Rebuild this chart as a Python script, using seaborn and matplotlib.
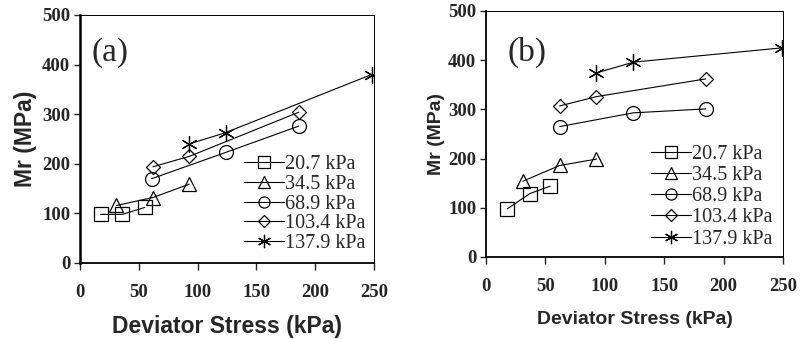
import numpy as np
import matplotlib
matplotlib.use("Agg")
import matplotlib.pyplot as plt
import pandas as pd
import seaborn as sns

# confining pressures (legend) and marker per series
confining = ["20.7 kPa", "34.5 kPa", "68.9 kPa", "103.4 kPa", "137.9 kPa"]
marker_list = ["s", "^", "o", "D", (6, 2, 0)]
marker_sizes = [10, 10, 10, 7.5, 12]

# panel (a): deviator stress (kPa) and Mr (MPa)
a_stress = [[17.5, 36, 55], [31, 62, 93], [61, 124, 186], [62, 93, 186], [93, 124, 248]]
a_mr = [[98, 98, 112], [116, 132, 159], [170, 223, 276], [194, 215, 304], [240, 263, 380]]

# panel (b)
b_stress = [[18, 37, 54], [31, 62, 93], [62, 124, 185], [62, 93, 185], [93, 124, 249]]
b_mr = [[98, 129, 144], [154, 186, 199], [265, 293, 301], [307, 326, 362], [374, 396, 425]]

xticks = [0, 50, 100, 150, 200, 250]
yticks = [0, 100, 200, 300, 400, 500]

sns.set_style("white")
plt.rcParams["font.family"] = ["Liberation Serif", "DejaVu Serif"]

fig = plt.figure(figsize=(8.02, 3.39), dpi=100)
ax_a = fig.add_axes([0.0998, 0.2242, 0.3665, 0.7316])
ax_b = fig.add_axes([0.606, 0.2419, 0.3703, 0.7257])

panels = [
    (ax_a, a_stress, a_mr, "(a)", (0.04, 0.85), (0.558, 0.435), 0.03, 16.5, 10, 4),
    (ax_b, b_stress, b_mr, "(b)", (0.074, 0.833), (0.556, 0.455), 0.1, 14, 12, 2),
]

for ax, xs, ys, tag, tag_pos, leg_pos, leg_sp, lab_size, xpad, ypad in panels:
    rows = []
    for name, sx, sy in zip(confining, xs, ys):
        for x, y in zip(sx, sy):
            rows.append({"stress": x, "mr": y, "conf": name})
    df = pd.DataFrame(rows)
    for name, mk, ms in zip(confining, marker_list, marker_sizes):
        sub = df[df["conf"] == name]
        sns.lineplot(data=sub, x="stress", y="mr", ax=ax, color="black", lw=0.8,
                     marker=mk, markersize=ms, markerfacecolor="none",
                     markeredgecolor="black", markeredgewidth=0.9, label=name,
                     sort=False)
    ax.set_xlim(0, 250)
    ax.set_ylim(0, 500)
    ax.set_xticks(xticks)
    ax.set_yticks(yticks)
    ax.set_xticklabels([str(t) for t in xticks], fontweight="bold", fontsize=13.5)
    ax.set_yticklabels([str(t) for t in yticks], fontweight="bold", fontsize=13.5)
    ax.tick_params(axis="x", direction="out", length=5, width=1, pad=10, bottom=True)
    ax.tick_params(axis="y", direction="out", length=4, width=1, pad=3, left=True)
    ax.set_xlabel("Deviator Stress (kPa)", family="Liberation Sans", fontweight="bold",
                  fontsize=lab_size, labelpad=xpad)
    ax.set_ylabel("Mr (MPa)", family="Liberation Sans", fontweight="bold",
                  fontsize=lab_size, labelpad=ypad)
    for side in ["top", "right"]:
        ax.spines[side].set_linewidth(0.7)
        ax.spines[side].set_color("black")
    ax.spines["left"].set_linewidth(1.8 if tag == "(a)" else 1.3)
    ax.spines["bottom"].set_linewidth(1.3)
    ax.spines["left"].set_color("black")
    ax.spines["bottom"].set_color("black")
    ax.text(tag_pos[0], tag_pos[1], tag, transform=ax.transAxes, fontsize=24,
            va="center", ha="left")
    ax.legend(loc="upper left", bbox_to_anchor=leg_pos, frameon=False, fontsize=14.5,
              handlelength=2.0, handletextpad=0.05, labelspacing=leg_sp,
              borderpad=0, borderaxespad=0, markerscale=0.8)

fig.savefig("out.png", dpi=100)
